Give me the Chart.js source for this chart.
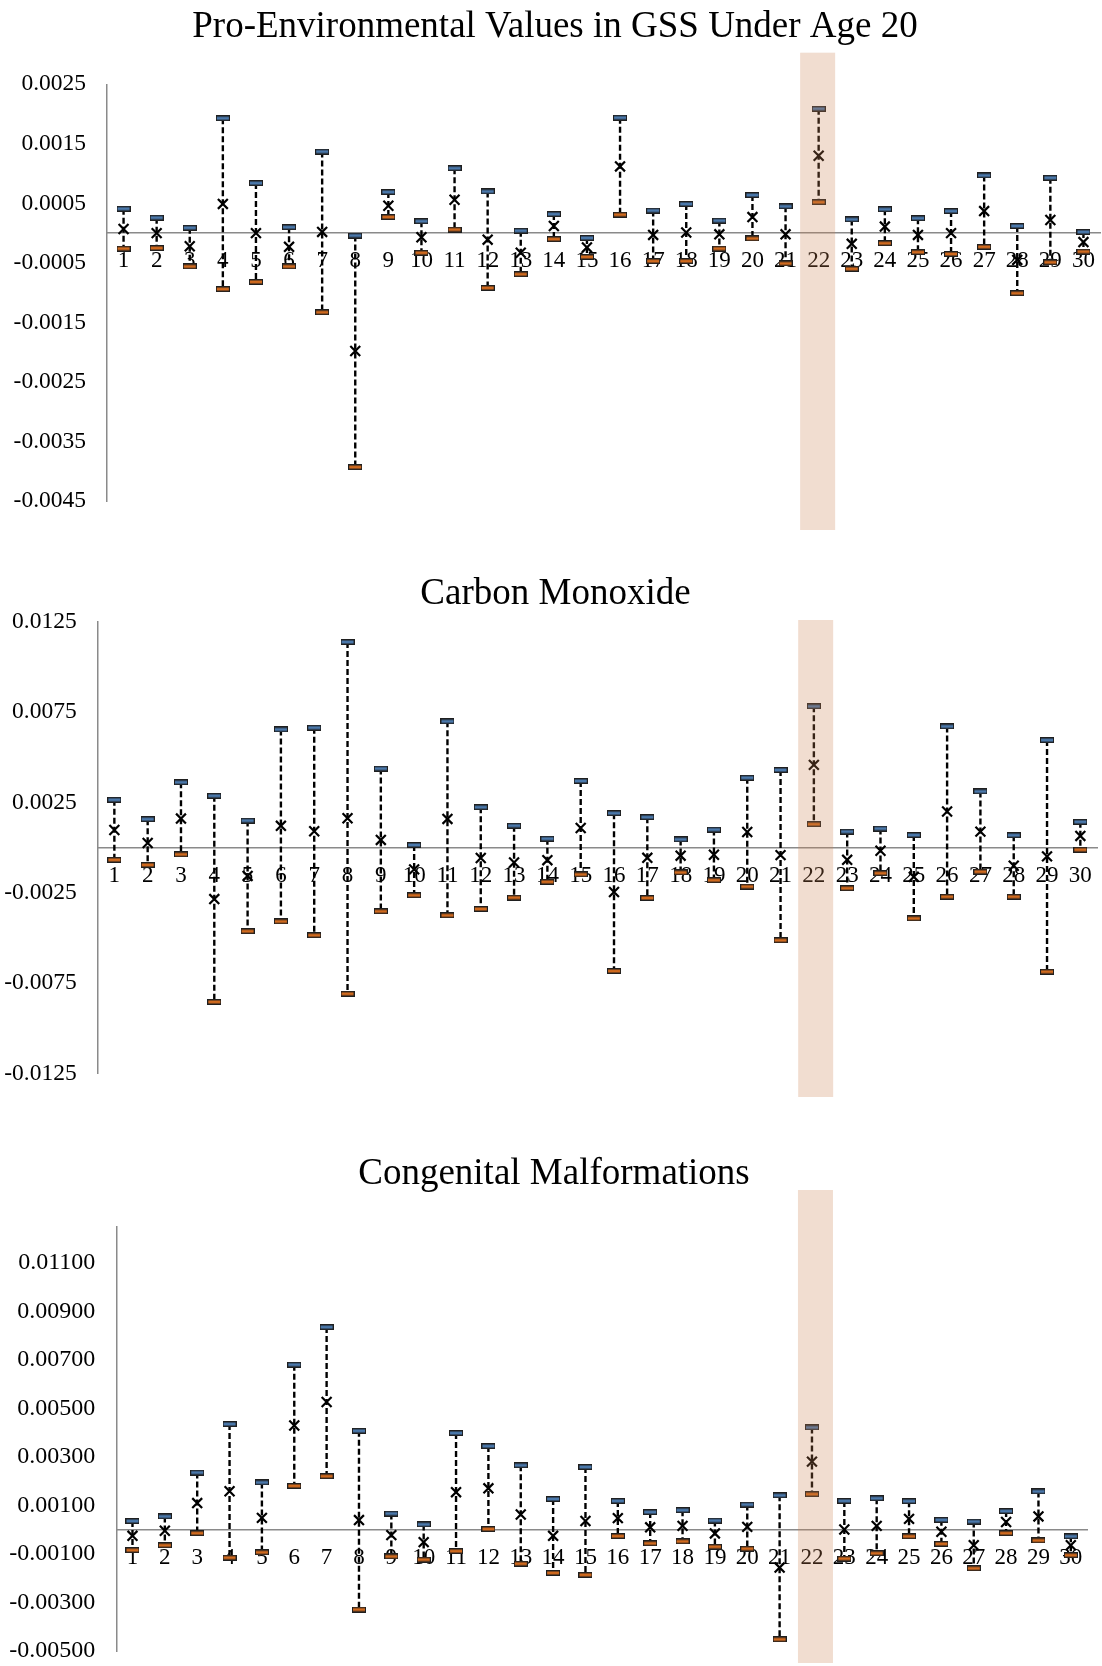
<!DOCTYPE html>
<html>
<head>
<meta charset="utf-8">
<title>Pro-Environmental Values, Carbon Monoxide, Congenital Malformations</title>
<script src="https://cdn.jsdelivr.net/npm/chart.js@4.4.1/dist/chart.umd.min.js"></script>
<style>
  html, body { margin: 0; padding: 0; background: #fff; }
  #page { position: relative; width: 1102px; height: 1666px; overflow: hidden; }
  .panel { position: absolute; left: 0; width: 1102px; }
  .panel canvas { display: block; }
</style>
</head>
<body>
<div id="page">
  <div class="panel" style="top:0;height:540px"><canvas id="chart-env" width="1102" height="540"></canvas></div>
  <div class="panel" style="top:540px;height:560px"><canvas id="chart-co" width="1102" height="560"></canvas></div>
  <div class="panel" style="top:1100px;height:566px"><canvas id="chart-cm" width="1102" height="566"></canvas></div>
</div>
<script>
// Categories (shared by all three panels) and the highlighted one
const categories = ['1','2','3','4','5','6','7','8','9','10','11','12','13','14','15',
                    '16','17','18','19','20','21','22','23','24','25','26','27','28','29','30'];
const highlightCat = '22';

// Panel 1 - Pro-Environmental Values in GSS Under Age 20
const envHigh = [0.00041, 0.00026, 0.00009, 0.00193, 0.00084, 0.00010, 0.00137, -0.00004, 0.00069, 0.00020,
                 0.00109, 0.00070, 0.00004, 0.00032, -0.00008, 0.00194, 0.00038, 0.00049, 0.00021, 0.00064,
                 0.00045, 0.00209, 0.00023, 0.00040, 0.00025, 0.00037, 0.00097, 0.00012, 0.00093, 0.00002];
const envMean = [0.00007, 0.00000, -0.00022, 0.00049, 0.00000, -0.00023, 0.00002, -0.00198, 0.00046, -0.00007,
                 0.00056, -0.00011, -0.00033, 0.00012, -0.00024, 0.00112, -0.00003, 0.00001, -0.00002, 0.00027,
                 -0.00002, 0.00130, -0.00018, 0.00011, -0.00003, 0.00000, 0.00037, -0.00045, 0.00022, -0.00015];
const envLow  = [-0.00026, -0.00025, -0.00056, -0.00094, -0.00082, -0.00056, -0.00133, -0.00393, 0.00027, -0.00033,
                 0.00006, -0.00092, -0.00069, -0.00010, -0.00040, 0.00031, -0.00047, -0.00047, -0.00026, -0.00009,
                 -0.00051, 0.00052, -0.00060, -0.00017, -0.00032, -0.00035, -0.00023, -0.00101, -0.00049, -0.00031];
const envTicks = [0.0025, 0.0015, 0.0005, -0.0005, -0.0015, -0.0025, -0.0035, -0.0045];
const envRange = [-0.0045, 0.0025];

// Panel 2 - Carbon Monoxide
const coHigh = [0.00265, 0.00158, 0.00362, 0.00287, 0.00150, 0.00654, 0.00664, 0.01138, 0.00438, 0.00015,
                0.00699, 0.00224, 0.00122, 0.00050, 0.00369, 0.00191, 0.00169, 0.00046, 0.00100, 0.00387,
                0.00430, 0.00782, 0.00089, 0.00106, 0.00070, 0.00671, 0.00311, 0.00069, 0.00595, 0.00143];
const coMean = [0.00098, 0.00026, 0.00161, -0.00284, -0.00156, 0.00121, 0.00091, 0.00163, 0.00043, -0.00120,
                0.00159, -0.00057, -0.00082, -0.00069, 0.00109, -0.00245, -0.00056, -0.00044, -0.00039, 0.00087,
                -0.00041, 0.00458, -0.00067, -0.00017, -0.00161, 0.00200, 0.00089, -0.00100, -0.00048, 0.00065];
const coLow  = [-0.00067, -0.00095, -0.00037, -0.00853, -0.00462, -0.00408, -0.00484, -0.00808, -0.00352, -0.00263,
                -0.00374, -0.00339, -0.00276, -0.00189, -0.00148, -0.00682, -0.00278, -0.00137, -0.00180, -0.00215,
                -0.00512, 0.00130, -0.00224, -0.00141, -0.00391, -0.00271, -0.00133, -0.00271, -0.00686, -0.00011];
const coTicks = [0.0125, 0.0075, 0.0025, -0.0025, -0.0075, -0.0125];
const coRange = [-0.0125, 0.0125];

// Panel 3 - Congenital Malformations
const cmHigh = [0.00036, 0.00055, 0.00236, 0.00436, 0.00195, 0.00681, 0.00836, 0.00408, 0.00067, 0.00022,
                0.00399, 0.00345, 0.00266, 0.00127, 0.00259, 0.00119, 0.00073, 0.00081, 0.00038, 0.00104,
                0.00142, 0.00422, 0.00119, 0.00130, 0.00118, 0.00041, 0.00034, 0.00077, 0.00158, -0.00027];
const cmMean = [-0.00025, -0.00004, 0.00110, 0.00159, 0.00049, 0.00430, 0.00527, 0.00040, -0.00022, -0.00051,
                0.00155, 0.00171, 0.00063, -0.00025, 0.00036, 0.00048, 0.00010, 0.00016, -0.00015, 0.00012,
                -0.00156, 0.00281, 0.00001, 0.00016, 0.00045, -0.00008, -0.00064, 0.00032, 0.00055, -0.00064];
const cmLow  = [-0.00084, -0.00064, -0.00014, -0.00115, -0.00093, 0.00181, 0.00221, -0.00329, -0.00110, -0.00123,
                -0.00088, 0.00003, -0.00140, -0.00178, -0.00186, -0.00026, -0.00056, -0.00048, -0.00070, -0.00078,
                -0.00452, 0.00147, -0.00119, -0.00097, -0.00027, -0.00058, -0.00159, -0.00014, -0.00044, -0.00105];
const cmTicks = [0.011, 0.009, 0.007, 0.005, 0.003, 0.001, -0.001, -0.003, -0.005];
const cmRange = [-0.005, 0.0125];

const SERIF = "'Liberation Serif', 'Times New Roman', serif";
const AXIS_GREY = '#8a8a8a';

// Small cap marker (top = blue, bottom = orange) used as point style
function makeCap(fill) {
    const c = document.createElement('canvas');
    c.width = 14;
    c.height = 6;
    const g = c.getContext('2d');
    g.fillStyle = '#1f1f1f';
    g.fillRect(0, 0, 14, 6);
    g.fillStyle = fill;
    g.fillRect(1, 1.5, 12, 3);
    return c;
}
const capTop = makeCap('#4a78ab');
const capBottom = makeCap('#d06a1e');

// Whisker points: high -> low, then a gap
function whiskerPoints(high, low) {
    const pts = [];
    categories.forEach((c, i) => {
        pts.push({ x: c, y: high[i] }, { x: c, y: low[i] }, { x: c, y: null });
    });
    return pts;
}

// Panel title, centred where the original puts it
const titlePlugin = {
    id: 'panelTitle',
    beforeDraw(chart, args, opts) {
        const ctx = chart.ctx;
        ctx.save();
        ctx.font = 'normal 37px ' + SERIF;
        ctx.fillStyle = '#000';
        ctx.textAlign = 'center';
        ctx.textBaseline = 'middle';
        ctx.fillText(opts.text, opts.x, opts.y);
        ctx.restore();
    }
};

// Translucent band drawn over everything at the highlighted category
const bandPlugin = {
    id: 'band',
    afterDraw(chart, args, opts) {
        const ctx = chart.ctx;
        const x = chart.scales.x.getPixelForValue(categories.indexOf(highlightCat)) + opts.shift;
        ctx.save();
        ctx.fillStyle = opts.color;
        ctx.fillRect(x - opts.halfWidth, opts.top, opts.halfWidth * 2, opts.bottom - opts.top);
        ctx.restore();
    }
};

function makePanel(id, title, high, mean, low, ticks, range, decimals, L) {
    const ctx = document.getElementById(id);
    return new Chart(ctx, {
        type: 'line',
        data: {
            labels: categories,
            datasets: [
                {
                    label: 'mean',
                    data: mean,
                    showLine: false,
                    pointStyle: 'crossRot',
                    pointRadius: 7,
                    pointBorderWidth: 2.2,
                    pointBorderColor: '#000',
                    pointBackgroundColor: 'transparent'
                },
                {
                    label: 'upper',
                    data: high,
                    showLine: false,
                    pointStyle: capTop,
                    pointRadius: 6
                },
                {
                    label: 'lower',
                    data: low,
                    showLine: false,
                    pointStyle: capBottom,
                    pointRadius: 6
                },
                {
                    label: 'range',
                    data: whiskerPoints(high, low),
                    borderColor: '#000',
                    borderWidth: 2.4,
                    borderDash: [6, 3],
                    pointRadius: 0,
                    spanGaps: false,
                    fill: false
                }
            ]
        },
        options: {
            responsive: false,
            animation: false,
            layout: {
                autoPadding: false,
                padding: { left: 0, right: L.padRight, top: L.padTop, bottom: L.padBottom }
            },
            plugins: {
                legend: { display: false },
                tooltip: { enabled: false },
                title: { display: false },
                panelTitle: { text: title, x: L.titleX, y: L.titleY },
                band: {
                    color: 'rgba(205, 130, 80, 0.27)',
                    halfWidth: 17.5,
                    shift: L.bandShift,
                    top: L.bandTop,
                    bottom: L.bandBottom
                }
            },
            scales: {
                x: {
                    type: 'category',
                    position: { y: 0 },
                    offset: true,
                    grid: { display: false, drawTicks: false },
                    border: { color: AXIS_GREY, width: 1.5 },
                    afterFit: s => { s.paddingLeft = 0; s.paddingRight = 0; s.paddingTop = 0; s.paddingBottom = 0; },
                    ticks: {
                        color: '#000',
                        font: { family: SERIF, size: 23 },
                        padding: 14,
                        maxRotation: 0,
                        autoSkip: false
                    }
                },
                y: {
                    min: range[0],
                    max: range[1],
                    grid: { display: false, drawTicks: false },
                    border: { color: AXIS_GREY, width: 1.5 },
                    afterBuildTicks: s => { s.ticks = ticks.map(v => ({ value: v })); },
                    afterFit: s => {
                        s.width = L.axisX;
                        s.paddingTop = 0;
                        s.paddingBottom = 0;
                    },
                    ticks: {
                        color: '#000',
                        font: { family: SERIF, size: L.tickSize },
                        padding: 21,
                        callback: v => Number(v).toFixed(decimals)
                    }
                }
            }
        },
        plugins: [titlePlugin, bandPlugin]
    });
}

makePanel('chart-env', 'Pro-Environmental Values in GSS Under Age 20',
    envHigh, envMean, envLow, envTicks, envRange, 4,
    { padRight: 2, padTop: 84.3, padBottom: 39, axisX: 107, titleX: 555, titleY: 27,
      tickSize: 23.5, bandShift: -1, bandTop: 52.7, bandBottom: 530 });

makePanel('chart-co', 'Carbon Monoxide',
    coHigh, coMean, coLow, coTicks, coRange, 4,
    { padRight: 5, padTop: 81.7, padBottom: 26.3, axisX: 97.7, titleX: 555.5, titleY: 54.5,
      tickSize: 23.5, bandShift: 1.8, bandTop: 80, bandBottom: 557 });

makePanel('chart-cm', 'Congenital Malformations',
    cmHigh, cmMean, cmLow, cmTicks, cmRange, 5,
    { padRight: 15, padTop: 126.7, padBottom: 15, axisX: 116.3, titleX: 554, titleY: 74.5,
      tickSize: 24, bandShift: 3.5, bandTop: 90, bandBottom: 563 });
</script>
</body>
</html>
